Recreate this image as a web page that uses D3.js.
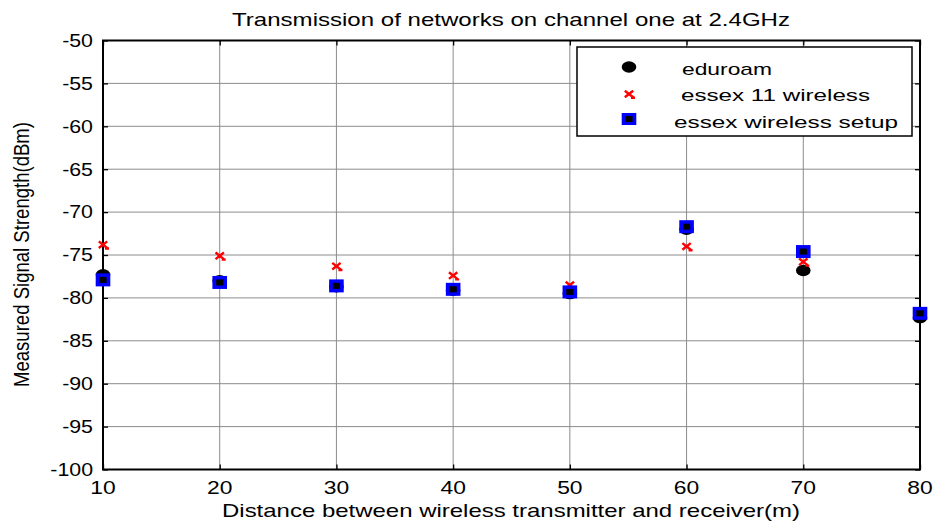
<!DOCTYPE html>
<html><head><meta charset="utf-8">
<script src="https://cdn.jsdelivr.net/npm/d3@7"></script>
<style>body{margin:0;background:#fff}svg{display:block}text{font-family:"Liberation Sans",Arial,sans-serif;fill:#000}</style>
</head><body>
<script>
const distances = [10, 20, 30, 40, 50, 60, 70, 80];
const eduroam = [-77.3, -78.0, -78.7, -79.1, -79.5, -72.0, -76.8, -82.3];
const essex11 = [-73.8, -75.1, -76.3, -77.4, -78.5, -74.0, -75.8, -81.7];
const essexSetup = [-77.9, -78.2, -78.6, -79.0, -79.3, -71.7, -74.6, -81.8];
const xTicks = [10, 20, 30, 40, 50, 60, 70, 80];
const yTicks = [-50, -55, -60, -65, -70, -75, -80, -85, -90, -95, -100];
const seriesNames = ["eduroam", "essex 11 wireless", "essex wireless setup"];

const W = 937, H = 528;
const m = {l: 103, r: 17, t: 40.5, b: 58.5};
const svg = d3.select("body").append("svg").attr("width", W).attr("height", H);
const x = d3.scaleLinear().domain([10, 80]).range([m.l, W - m.r]);
const y = d3.scaleLinear().domain([-100, -50]).range([H - m.b, m.t]);

// grid
svg.append("g").selectAll("line").data(xTicks).join("line")
  .attr("x1", d => x(d)).attr("x2", d => x(d)).attr("y1", m.t).attr("y2", H - m.b)
  .attr("stroke", "#8c8c8c").attr("stroke-width", 1);
svg.append("g").selectAll("line").data(yTicks).join("line")
  .attr("y1", d => y(d)).attr("y2", d => y(d)).attr("x1", m.l).attr("x2", W - m.r)
  .attr("stroke", "#8c8c8c").attr("stroke-width", 1);

// axis ticks (all four sides, inward)
function tickOnly(sel){ sel.select(".domain").remove(); sel.selectAll("line").attr("stroke","#000").attr("stroke-width",1.3); sel.selectAll("text").remove(); }
svg.append("g").attr("transform", `translate(0,${H - m.b})`).call(d3.axisBottom(x).tickValues(xTicks).tickSize(-5)).call(tickOnly);
svg.append("g").attr("transform", `translate(0,${m.t})`).call(d3.axisTop(x).tickValues(xTicks).tickSize(-5)).call(tickOnly);
svg.append("g").attr("transform", `translate(${m.l},0)`).call(d3.axisLeft(y).tickValues(yTicks).tickSize(-5)).call(tickOnly);
svg.append("g").attr("transform", `translate(${W - m.r},0)`).call(d3.axisRight(y).tickValues(yTicks).tickSize(-5)).call(tickOnly);
svg.append("rect").attr("x", m.l).attr("y", m.t).attr("width", W - m.r - m.l).attr("height", H - m.b - m.t)
  .attr("fill", "none").attr("stroke", "#000").attr("stroke-width", 2);

// tick labels (horizontally stretched like the reference)
svg.append("g").selectAll("text").data(xTicks).join("text")
  .attr("transform", d => `translate(${x(d)},${H - m.b + 24}) scale(1.27,1)`)
  .attr("text-anchor", "middle").attr("font-size", 18).text(d => String(d));
svg.append("g").selectAll("text").data(yTicks).join("text")
  .attr("transform", d => `translate(${m.l - 10},${y(d) + 6.3}) scale(1.22,1)`)
  .attr("text-anchor", "end").attr("font-size", 17.5).text(d => String(d));

// markers
function circle(sel, cx, cy){ sel.append("ellipse").attr("cx", cx).attr("cy", cy).attr("rx", 7.3).attr("ry", 5.7).attr("fill", "#000"); }
function cross(sel, cx, cy){ const sx = 4.2, sy = 3.3; sel.append("path").attr("d", `M${cx-sx},${cy-sy}L${cx+sx},${cy+sy}M${cx-sx},${cy+sy}L${cx+sx},${cy-sy}M${cx+2},${cy+sy+0.5}L${cx+6},${cy+sy+0.5}`).attr("stroke", "#f00").attr("stroke-width", 2.4).attr("fill","none"); }
function square(sel, cx, cy, h){ h = h || 13; sel.append("rect").attr("x", cx-7.3).attr("y", cy-h/2).attr("width", 14.6).attr("height", h).attr("fill", "#0000ff"); sel.append("rect").attr("x", cx-3.6).attr("y", cy-3).attr("width", 7.2).attr("height", 6).attr("fill", "#000"); }

const mk = svg.append("g");
distances.forEach((d, i) => circle(mk, x(d), y(eduroam[i])));
distances.forEach((d, i) => cross(mk, x(d), y(essex11[i])));
distances.forEach((d, i) => square(mk, x(d), y(essexSetup[i])));

// legend
const lg = svg.append("g");
lg.append("rect").attr("x", 577).attr("y", 47).attr("width", 335).attr("height", 89).attr("fill", "#fff").attr("stroke", "#000").attr("stroke-width", 1.5);
circle(lg, 629, 67); cross(lg, 629, 94); square(lg, 629, 119, 12);
const legendText = [{x: 682, y: 75, w: 90}, {x: 681, y: 101, w: 189}, {x: 674, y: 128, w: 224}];
seriesNames.forEach((n, i) => lg.append("text").attr("x", legendText[i].x).attr("y", legendText[i].y)
  .attr("font-size", 17).attr("textLength", legendText[i].w).attr("lengthAdjust", "spacingAndGlyphs").text(n));

// title and labels
svg.append("text").attr("x", 232).attr("y", 26).attr("font-size", 19).attr("textLength", 558).attr("lengthAdjust", "spacingAndGlyphs")
  .text("Transmission of networks on channel one at 2.4GHz");
svg.append("text").attr("x", 222).attr("y", 517).attr("font-size", 18.5).attr("textLength", 578).attr("lengthAdjust", "spacingAndGlyphs")
  .text("Distance between wireless transmitter and receiver(m)");
svg.append("text").attr("transform", "translate(29,254.5) scale(1.15,1) rotate(-90)").attr("text-anchor", "middle")
  .attr("font-size", 19).attr("textLength", 265).attr("lengthAdjust", "spacingAndGlyphs").text("Measured Signal Strength(dBm)");
</script>
</body></html>
